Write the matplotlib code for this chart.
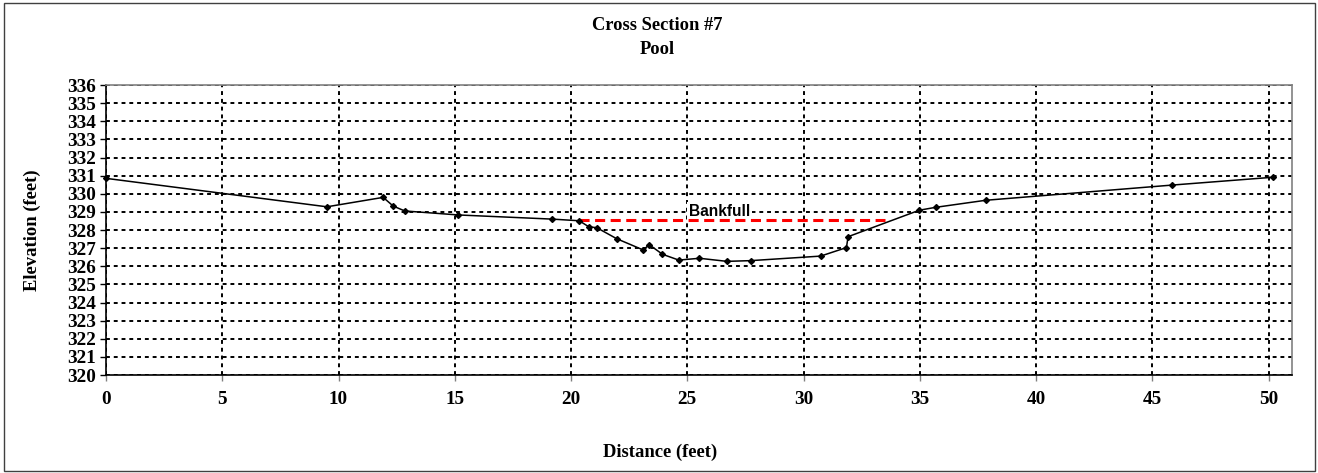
import matplotlib
matplotlib.use("Agg")
import matplotlib.pyplot as plt
from matplotlib.patches import Rectangle

# survey points
distance = [0.0, 9.5, 11.92, 12.35, 12.85, 15.15, 19.2, 20.35, 20.77, 21.1, 21.96,
            23.1, 23.36, 23.93, 24.63, 25.52, 26.7, 27.73, 30.73, 31.84, 31.91,
            34.97, 35.67, 37.83, 45.86, 50.18]
elevation = [330.85, 329.28, 329.8, 329.32, 329.05, 328.83, 328.6, 328.51, 328.17,
             328.13, 327.52, 326.9, 327.19, 326.66, 326.34, 326.44, 326.27, 326.31,
             326.56, 327.03, 327.63, 329.09, 329.25, 329.64, 330.48, 330.91]
bankfull_x = [20.35, 33.5]
bankfull_y = [328.55, 328.55]
x_ticks = [0, 5, 10, 15, 20, 25, 30, 35, 40, 45, 50]
y_ticks = list(range(320, 337))

plt.rcParams['font.family'] = ['Liberation Serif', 'DejaVu Serif']
plt.rcParams['font.weight'] = 'bold'

fig = plt.figure(figsize=(13.18, 4.73), dpi=100)
W, H = 1318, 473
ax = fig.add_axes([106 / W, 1 - 375 / H, (1292 - 106) / W, (375 - 85) / H])

fig.patches.append(Rectangle((4 / W, 2 / H), 1 - 7 / W, 1 - 5 / H, transform=fig.transFigure,
                             fill=False, edgecolor="#404040", lw=1))

ax.plot(distance, elevation, color="black", lw=1.1, marker="D", markersize=3,
        zorder=3, clip_on=False)
ax.plot(bankfull_x, bankfull_y, color="#ff0000", lw=2.2, linestyle=(0, (3.3, 1.8)), zorder=2)
ax.text(25.05, 328.79, "Bankfull", family=["Liberation Sans", "DejaVu Sans"],
        fontweight="bold", fontsize=11.2, ha="left", va="baseline", zorder=1.8,
        bbox=dict(facecolor="white", edgecolor="none", pad=1.5))

ax.set_xlim(0, 51)
ax.set_ylim(320, 336)
ax.set_xticks(x_ticks)
ax.set_yticks(y_ticks)
ax.tick_params(axis="y", direction="out", length=4.5, width=1, pad=3, labelsize=13.8)
ax.tick_params(axis="x", direction="out", length=4.5, width=1, color="#808080",
               pad=7, labelsize=13.8)
ax.grid(True, color="black", linestyle=(0, (2, 2)), lw=1.4)

for s in ["top", "right"]:
    ax.spines[s].set_color("#808080")
for s in ["left", "bottom"]:
    ax.spines[s].set_color("black")
for s in ax.spines.values():
    s.set_linewidth(1.2)

fig.text(657 / W, 1 - 26 / H, "Cross Section #7", ha="center", va="center",
         fontsize=13.3, fontweight="bold")
fig.text(657 / W, 1 - 50 / H, "Pool", ha="center", va="center",
         fontsize=13.3, fontweight="bold")
fig.text(660 / W, 1 - 452 / H, "Distance (feet)", ha="center", va="center",
         fontsize=13.4, fontweight="bold")
fig.text(32 / W, 1 - 230 / H, "Elevation (feet)", ha="center", va="center",
         rotation=90, fontsize=13.4, fontweight="bold")

fig.savefig("out.png", dpi=100)
